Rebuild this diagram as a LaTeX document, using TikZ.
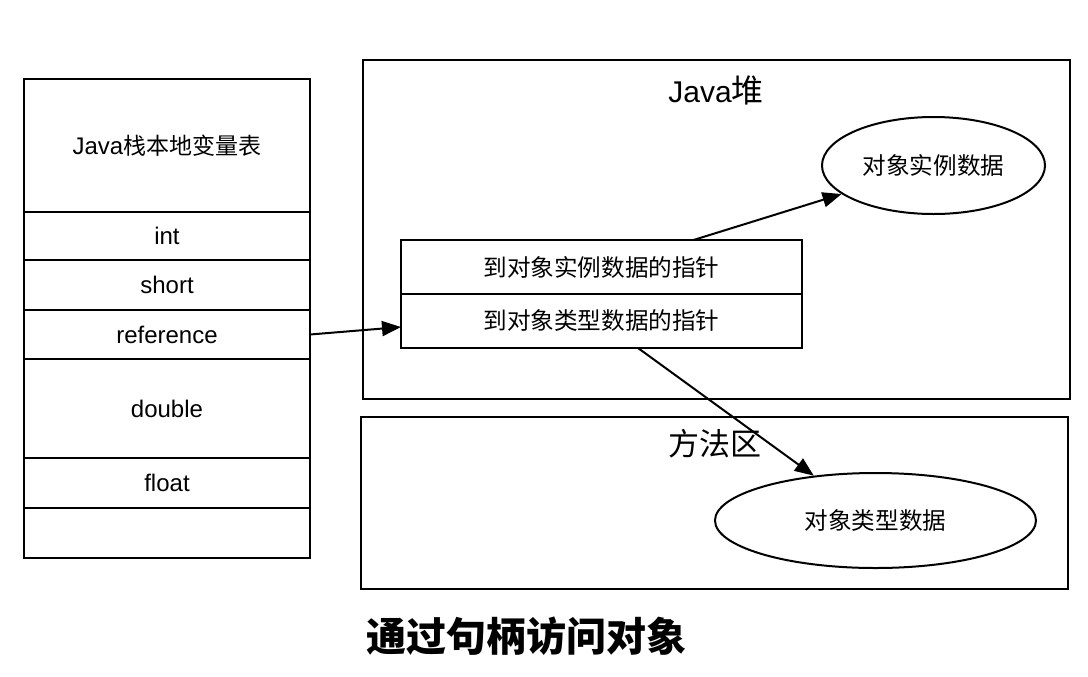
\documentclass[tikz,border=0pt]{standalone}
\usepackage{fontspec}
\setmainfont{Liberation Sans}
\newfontfamily\cjk{Noto Sans CJK SC}
\usetikzlibrary{arrows.meta,shapes.geometric,positioning}

\begin{document}
\begin{tikzpicture}[
        x=0.5pt, y=-0.5pt, % координаты в пикселях
        line width=1pt,
        cell/.style={draw, rectangle, minimum width=143pt, inner sep=0pt, outer sep=0pt,
            font=\fontsize{12}{14}\selectfont}, % ячейки стека
        ptr/.style={draw, rectangle, minimum width=200.5pt, minimum height=27pt, inner sep=0pt, outer sep=0pt,
            font=\cjk\fontsize{11.8}{14}\selectfont}, % указатели
        oval/.style={draw, ellipse, inner sep=0pt, font=\cjk\fontsize{11.8}{14}\selectfont},
        area/.style={draw, rectangle, minimum width=353.5pt, inner sep=0pt},
        link/.style={-{Triangle[length=9.5pt,width=7.5pt]}},
    ]
    \useasboundingbox (0,0) rectangle (1088,676);

    % стек
    \node[cell, minimum height=66.5pt] (vars) at (167,145.5) {Java{\cjk\fontsize{11.5}{14}\selectfont 栈本地变量表}};
    \node[cell, minimum height=24pt, below=0pt of vars] (int) {int};
    \node[cell, minimum height=25pt, below=0pt of int] (short) {short};
    \node[cell, minimum height=24.5pt, below=0pt of short] (ref) {reference};
    \node[cell, minimum height=49.5pt, below=0pt of ref] (double) {double};
    \node[cell, minimum height=25pt, below=0pt of double] (float) {float};
    \node[cell, minimum height=25pt, below=0pt of float] (empty) {};

    % куча и область методов
    \node[area, minimum height=169.5pt] (heap) at (716.5,229.5) {};
    \node[font=\fontsize{15}{18}\selectfont] (heaptitle) at (716,90) {Java{\cjk\fontsize{16}{18}\selectfont 堆}};
    \node[area, minimum height=86pt] (method) at (714.5,503) {};
    \node[font=\cjk\fontsize{15.5}{18}\selectfont] (methodtitle) at (715,444) {方法区};

    \node[ptr] (ptrA) at (601.5,267) {到对象实例数据的指针};
    \node[ptr, below=0pt of ptrA] (ptrB) {到对象类型数据的指针};
    \node[oval, minimum width=111.5pt, minimum height=48.5pt] (inst) at (933.5,165.5) {对象实例数据};
    \node[oval, minimum width=160.5pt, minimum height=47.5pt] (type) at (875.5,520.5) {对象类型数据};

    \draw[link] (ref.east) -- ([yshift=-3pt]ptrB.west);
    \draw[link] ([xshift=46pt]ptrA.north) -- (inst);
    \draw[link] ([xshift=18.25pt]ptrB.south) -- (type);

    \node[font=\cjk\bfseries\fontsize{20}{24}\selectfont] (caption) at (526,636) {通过句柄访问对象};
\end{tikzpicture}
\end{document}
